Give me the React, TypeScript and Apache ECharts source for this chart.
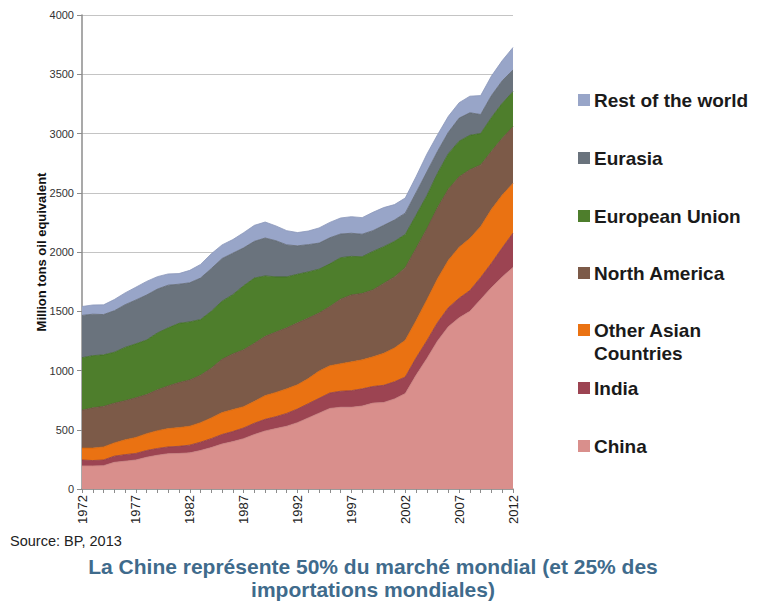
import React, { useEffect, useRef } from "react";
import * as echarts from "echarts";

const years = [
  "1972", "1973", "1974", "1975", "1976", "1977", "1978", "1979", "1980", "1981",
  "1982", "1983", "1984", "1985", "1986", "1987", "1988", "1989", "1990", "1991",
  "1992", "1993", "1994", "1995", "1996", "1997", "1998", "1999", "2000", "2001",
  "2002", "2003", "2004", "2005", "2006", "2007", "2008", "2009", "2010", "2011", "2012",
];

const china = [195, 195, 197, 225, 235, 245, 268, 285, 298, 300, 305, 325, 350, 380, 400, 425, 460, 490, 510, 530, 560, 600, 640, 680, 690, 690, 700, 725, 730, 760, 805, 960, 1100, 1250, 1370, 1445, 1500, 1600, 1700, 1790, 1870];
const india = [50, 45, 48, 52, 55, 55, 57, 57, 57, 60, 65, 70, 75, 80, 85, 90, 95, 98, 100, 108, 115, 120, 125, 130, 135, 140, 145, 140, 145, 145, 140, 145, 150, 155, 160, 165, 175, 185, 205, 245, 290];
const otherAsia = [100, 105, 110, 112, 125, 135, 142, 150, 155, 158, 160, 165, 175, 185, 185, 180, 185, 200, 205, 207, 205, 212, 230, 230, 232, 243, 245, 250, 270, 285, 310, 315, 345, 370, 400, 430, 440, 430, 455, 445, 420];
const northAmerica = [320, 340, 342, 335, 330, 335, 330, 345, 360, 380, 390, 400, 420, 450, 470, 480, 490, 500, 510, 515, 522, 510, 490, 500, 545, 565, 560, 565, 590, 600, 613, 610, 600, 600, 600, 595, 580, 520, 490, 480, 477];
const europeanUnion = [443, 440, 435, 430, 450, 455, 460, 480, 490, 500, 490, 470, 480, 490, 500, 540, 550, 510, 465, 430, 410, 390, 370, 360, 350, 325, 310, 325, 310, 300, 280, 280, 280, 290, 300, 300, 290, 265, 285, 295, 296];
const eurasia = [357, 350, 340, 350, 360, 370, 380, 370, 360, 330, 330, 350, 360, 360, 350, 320, 310, 320, 305, 270, 240, 230, 220, 220, 200, 195, 190, 175, 180, 180, 180, 190, 200, 185, 180, 195, 190, 160, 185, 190, 183];
const restOfWorld = [75, 78, 82, 95, 100, 108, 115, 105, 95, 90, 105, 115, 125, 115, 115, 128, 135, 135, 125, 120, 112, 115, 128, 130, 135, 140, 140, 155, 150, 130, 128, 135, 150, 140, 135, 130, 140, 160, 165, 170, 190];

const seriesNames = ["China", "India", "Other Asian Countries", "North America", "European Union", "Eurasia", "Rest of the world"];
const seriesData = [china, india, otherAsia, northAmerica, europeanUnion, eurasia, restOfWorld];
const fillColors = ["#D98F8C", "#9C4452", "#EA7212", "#7C5A48", "#4E7E2C", "#6A737D", "#98A5C8"];
const edgeColors = ["#C98380", "#8A3A47", "#D86408", "#6A4B3B", "#3F6C22", "#5E666F", "#8A97BA"];

// legend: top-to-bottom order and label lines
const legendOrder = [6, 5, 4, 3, 2, 1, 0];
const legendLabels = ["Rest of the world", "Eurasia", "European Union", "North America", "Other Asian\nCountries", "India", "China"];
const legendY = [100, 158, 216, 273, 330, 388, 446];

export default function App() {
  const ref = useRef<HTMLDivElement>(null);
  useEffect(() => {
    const chart = echarts.init(ref.current!, null, { renderer: "svg" });
    const font = "Liberation Sans, Arial, sans-serif";
    const legendGraphics: any[] = [];
    legendOrder.forEach((si, i) => {
      const y = legendY[i];
      legendGraphics.push({
        type: "rect",
        shape: { x: 578, y: y - 6, width: 12, height: 12 },
        style: { fill: fillColors[si] },
      });
      legendGraphics.push({
        type: "text",
        x: 594,
        y: y - 11.5,
        style: {
          text: legendLabels[i],
          font: `bold 19px ${font}`,
          fill: "#1a1a1a",
          textAlign: "left",
          textVerticalAlign: "top",
          lineHeight: 23,
        },
      });
    });

    chart.setOption({
      animation: false,
      backgroundColor: "#ffffff",
      title: {
        text: "La Chine représente 50% du marché mondial (et 25% des\nimportations mondiales)",
        left: 373,
        top: 555,
        padding: 0,
        textAlign: "center",
        textStyle: {
          color: "#3F6B8C",
          fontSize: 21,
          fontWeight: "bold",
          fontFamily: font,
          lineHeight: 23,
          align: "center",
        },
      },
      grid: { left: 82, top: 15, width: 431, height: 474, containLabel: false },
      xAxis: {
        type: "category",
        data: years,
        boundaryGap: false,
        axisLine: { show: true, lineStyle: { color: "#8c8c8c", width: 1.5 } },
        axisTick: { show: true, interval: 0, length: 4, lineStyle: { color: "#8c8c8c" } },
        axisLabel: { interval: 4, rotate: 90, fontSize: 13, color: "#222", margin: 6, fontFamily: font },
        splitLine: { show: false },
      },
      yAxis: {
        type: "value",
        min: 0,
        max: 4000,
        interval: 500,
        name: "Million tons oil equivalent",
        nameLocation: "middle",
        nameGap: 34,
        nameMoveOverlap: false,
        nameTextStyle: { fontSize: 13, fontWeight: "bold", color: "#111", fontFamily: font },
        axisLine: { show: true, lineStyle: { color: "#8c8c8c", width: 1.5 } },
        axisTick: { show: true, length: 5, lineStyle: { color: "#8c8c8c" } },
        axisLabel: {
          fontSize: 11,
          color: "#333",
          margin: 8,
          fontFamily: font,
          formatter: (v: number) => String(v),
        },
        splitLine: { show: true, lineStyle: { color: "#c4c4c4", width: 1 } },
      },
      series: seriesNames.map((name, i) => ({
        name,
        type: "line",
        stack: "total",
        data: seriesData[i],
        symbol: "none",
        smooth: false,
        lineStyle: { color: edgeColors[i], width: 0.8 },
        itemStyle: { color: fillColors[i] },
        areaStyle: { color: fillColors[i], opacity: 1 },
        z: 2,
      })),
      graphic: [
        ...legendGraphics,
        {
          type: "text",
          x: 10,
          y: 533,
          style: { text: "Source: BP, 2013", font: `14.5px ${font}`, fill: "#222" },
        },
      ],
    });
    return () => chart.dispose();
  }, []);
  return (
    <div
      ref={ref}
      style={{ position: "fixed", left: 0, top: 0, width: 757, height: 602, background: "#fff" }}
    />
  );
}
